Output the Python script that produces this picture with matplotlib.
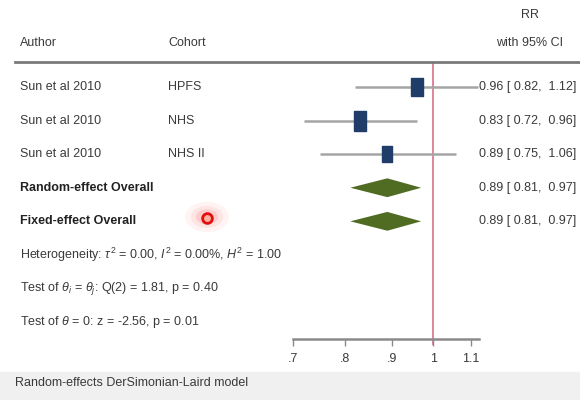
import numpy as np
import matplotlib
matplotlib.use("Agg")
import matplotlib.pyplot as plt
from matplotlib.patches import Rectangle
from matplotlib.transforms import blended_transform_factory

# study data
authors = ["Sun et al 2010", "Sun et al 2010", "Sun et al 2010"]
cohorts = ["HPFS", "NHS", "NHS II"]
rr = [0.96, 0.83, 0.89]
ci_lo = [0.82, 0.72, 0.75]
ci_hi = [1.12, 0.96, 1.06]
weights = [33.5, 39.3, 27.2]

# pooled estimates
overall_labels = ["Random-effect Overall", "Fixed-effect Overall"]
overall_rr = [0.89, 0.89]
overall_lo = [0.81, 0.81]
overall_hi = [0.97, 0.97]

stats_lines = [
    r"Heterogeneity: $\tau^2$ = 0.00, $I^2$ = 0.00%, $H^2$ = 1.00",
    r"Test of $\theta_i$ = $\theta_j$: Q(2) = 1.81, p = 0.40",
    r"Test of $\theta$ = 0: z = -2.56, p = 0.01",
]
xticks = [0.7, 0.8, 0.9, 1.0, 1.1]
xticklabels = [".7", ".8", ".9", "1", "1.1"]

plt.rcParams['font.family'] = ['Liberation Sans', 'DejaVu Sans']
plt.rcParams['mathtext.fontset'] = 'custom'
plt.rcParams['mathtext.rm'] = 'Liberation Sans'
plt.rcParams['mathtext.it'] = 'Liberation Sans:italic'

txt = '#3a3a3a'
fs = 9

fig = plt.figure(figsize=(5.8, 4.0), dpi=100)
fig.patch.set_facecolor('white')
# greyish band at bottom (video frame)
fig.patches.append(Rectangle((0, 0), 1, 0.07, transform=fig.transFigure,
                             color='#f0f0f0', zorder=-5))

# forest axes: x from .7 to 1.12 on log scale, rows in data y
ax = fig.add_axes([293 / 580, 0, (479 - 293) / 580, 1])
ax.set_zorder(2)
ax.set_xscale('log')
ax.set_xlim(0.7, 1.124)
ax.set_ylim(9.32, -2.59)
ax.patch.set_alpha(0)
for s in ['top', 'right', 'left']:
    ax.spines[s].set_visible(False)
ax.spines['bottom'].set_position(('data', 7.5))
ax.spines['bottom'].set_color('#8a8a8a')
ax.spines['bottom'].set_linewidth(1.8)
ax.set_xticks(xticks)
ax.set_xticklabels(xticklabels, fontsize=fs, color=txt)
ax.xaxis.set_minor_locator(matplotlib.ticker.NullLocator())
ax.tick_params(axis='x', direction='out', length=5, width=1, color='#8a8a8a', pad=5)
ax.set_yticks([])

rows = np.arange(len(rr))
ax.vlines(1.0, -0.75, 7.68, color='#d9708a', lw=1.2, zorder=1)
ax.hlines(rows, ci_lo, ci_hi, color='#a5a5a5', lw=1.8, zorder=2, clip_on=False)
rect = [(-0.33, -0.5), (0.33, -0.5), (0.33, 0.5), (-0.33, 0.5), (-0.33, -0.5)]
for r, est, w in zip(rows, rr, weights):
    ax.plot(est, r, marker=rect, ms=np.sqrt(w) * 2.2, color='#1f3d68',
            mec='#1f3d68', zorder=3, ls='none')

orow = np.arange(len(rr), len(rr) + len(overall_rr))
for r, est, lo, hi in zip(orow, overall_rr, overall_lo, overall_hi):
    ax.fill([lo, est, hi, est], [r, r - 0.28, r, r + 0.28], color='#506b22',
            zorder=3, lw=0)

# text columns (x in figure fraction, y in rows)
tr = blended_transform_factory(fig.transFigure, ax.transData)
ax.text(20 / 580, -1.3, "Author", transform=tr, fontsize=fs, color=txt, va='center')
ax.text(168 / 580, -1.3, "Cohort", transform=tr, fontsize=fs, color=txt, va='center')
ax.text(530 / 580, -2.15, "RR", transform=tr, fontsize=fs, color=txt, va='center', ha='center')
ax.text(530 / 580, -1.3, "with 95% CI", transform=tr, fontsize=fs, color=txt,
        va='center', ha='center')
ax.plot([15 / 580, 1.0], [-0.75, -0.75], transform=tr, color='#7a7a7a', lw=2,
        clip_on=False)

for r, a, c, est, lo, hi in zip(rows, authors, cohorts, rr, ci_lo, ci_hi):
    ax.text(20 / 580, r, a, transform=tr, fontsize=fs, color=txt, va='center')
    ax.text(168 / 580, r, c, transform=tr, fontsize=fs, color=txt, va='center')
    ax.text(576 / 580, r, f"{est:.2f} [ {lo:.2f},  {hi:.2f}]", transform=tr,
            fontsize=fs, color=txt, va='center', ha='right')

for r, lab, est, lo, hi in zip(orow, overall_labels, overall_rr, overall_lo, overall_hi):
    ax.text(20 / 580, r, lab, transform=tr, fontsize=fs, color='#222222',
            va='center', fontweight='bold')
    ax.text(576 / 580, r, f"{est:.2f} [ {lo:.2f},  {hi:.2f}]", transform=tr,
            fontsize=fs, color=txt, va='center', ha='right')

for i, line in enumerate(stats_lines):
    ax.text(20 / 580, len(rr) + len(overall_rr) + i, line, transform=tr,
            fontsize=fs, color=txt, va='center')

ax.text(15 / 580, 8.8, "Random-effects DerSimonian-Laird model", transform=tr,
        fontsize=fs, color=txt, va='center')

# cursor highlight from the screen recording
for rad, al in [(22, 0.07), (16, 0.1), (11, 0.18)]:
    fig.patches.append(plt.Circle((207 / 580, 1 - 217 / 400), rad / 580,
                                  transform=fig.transFigure, color='#ff6060',
                                  alpha=al, lw=0, zorder=-1))
ax.plot([207 / 580], [3.9], transform=tr, marker='o', ms=7, mfc='#ffb0a0',
        mec='#e01010', mew=2, clip_on=False, zorder=5)

fig.savefig("out.png", dpi=100)
